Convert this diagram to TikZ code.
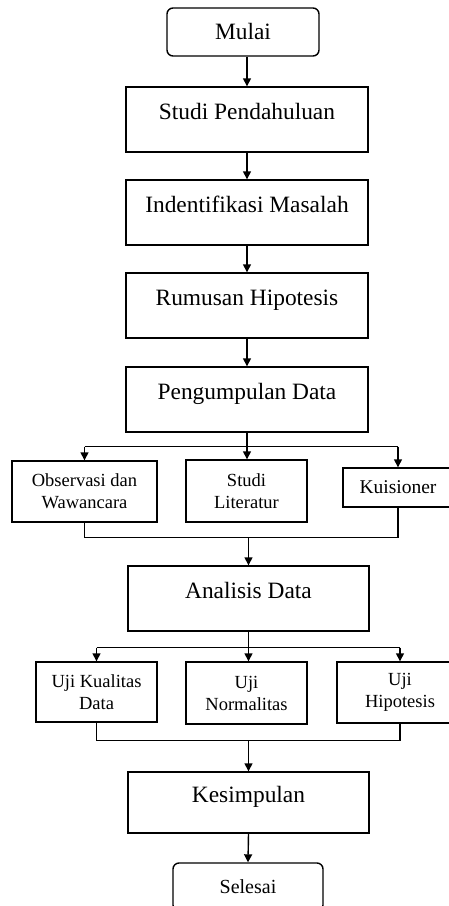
\documentclass[tikz,border=0pt]{standalone}
\usepackage{fontspec}
\setmainfont{Liberation Serif}
\usetikzlibrary{arrows.meta}
\begin{document}
\begin{tikzpicture}[x=1pt,y=-1pt,
  mainbox/.style={draw, line width=1.4pt, inner sep=0pt, minimum width=242pt, minimum height=65pt, text height=10pt, text depth=10pt, font=\fontsize{23.4}{28}\selectfont},
  term/.style={draw, rounded corners=6pt, line width=1.4pt, inner sep=0pt, minimum width=152pt, minimum height=48pt},
  subbox/.style={draw, line width=1.4pt, inner sep=0pt, align=center, font=\fontsize{18.5}{22}\selectfont},
  link/.style={line width=1.4pt, -{Triangle[width=8pt,length=8pt]}},
  joinline/.style={line width=1.4pt}
]
\useasboundingbox (0,0) rectangle (448,906);
\node[term, font=\fontsize{23.4}{28}\selectfont, text height=15.5pt, text depth=0pt] (mulai) at (243,32) {Mulai};
\node[mainbox] (studi) at (247,119.5) {Studi Pendahuluan};
\node[mainbox] (ident) at (247,212.5) {Indentifikasi Masalah};
\node[mainbox] (rumus) at (247,305.5) {Rumusan Hipotesis};
\node[mainbox] (kumpul) at (247,399.5) {Pengumpulan Data};
\node[subbox, minimum width=145pt, minimum height=61pt] (obs) at (84.5,491.5) {Observasi dan\\Wawancara};
\node[subbox, minimum width=121pt, minimum height=62pt] (lit) at (246.5,491) {Studi\\Literatur};
\node[subbox, minimum width=110pt, minimum height=39pt, font=\fontsize{19.5}{23}\selectfont] (kuis) at (398,487.5) {Kuisioner};
\node[mainbox, minimum width=241pt] (anal) at (248.5,598.5) {Analisis Data};
\node[subbox, minimum width=121pt, minimum height=60pt] (ujik) at (96.5,692) {Uji Kualitas\\Data};
\node[subbox, minimum width=121pt, minimum height=62pt] (ujin) at (246.5,693) {Uji\\Normalitas};
\node[subbox, minimum width=126pt, minimum height=61pt] (ujih) at (400,692.5) {Uji\\Hipotesis};
\node[mainbox, minimum width=241pt, minimum height=61pt] (simp) at (248.5,802.5) {Kesimpulan};
\node[term, minimum width=150pt, font=\fontsize{20}{24}\selectfont, text height=13pt, text depth=0pt] (selesai) at (248,887) {Selesai};

\draw[link] (studi.north |- mulai.south) -- (studi.north);
\draw[link] (studi.south) -- (ident.north);
\draw[link] (ident.south) -- (rumus.north);
\draw[link] (rumus.south) -- (kumpul.north);

\draw[joinline] (kumpul.south) -- ++(0,14) coordinate (b1);
\draw[joinline] (obs.north |- b1) -- (kuis.north |- b1);
\draw[link] (obs.north |- b1) -- (obs.north);
\draw[link] (b1) -- (b1 |- lit.north);
\draw[link] (kuis.north |- b1) -- (kuis.north);

\draw[joinline] (obs.south) -- ++(0,15) coordinate (m1) -| (kuis.south);
\draw[link] (anal.north |- m1) -- (anal.north);

\draw[joinline] (anal.south) -- ++(0,16) coordinate (b2);
\draw[joinline] (ujik.north |- b2) -- (ujih.north |- b2);
\draw[link] (ujik.north |- b2) -- (ujik.north);
\draw[link] (b2) -- (b2 |- ujin.north);
\draw[link] (ujih.north |- b2) -- (ujih.north);

\draw[joinline] (ujik.south) -- ++(0,18) coordinate (m2) -| (ujih.south);
\draw[link] (simp.north |- m2) -- (simp.north);
\draw[link] (simp.south) -- (selesai.north);
\end{tikzpicture}
\end{document}
